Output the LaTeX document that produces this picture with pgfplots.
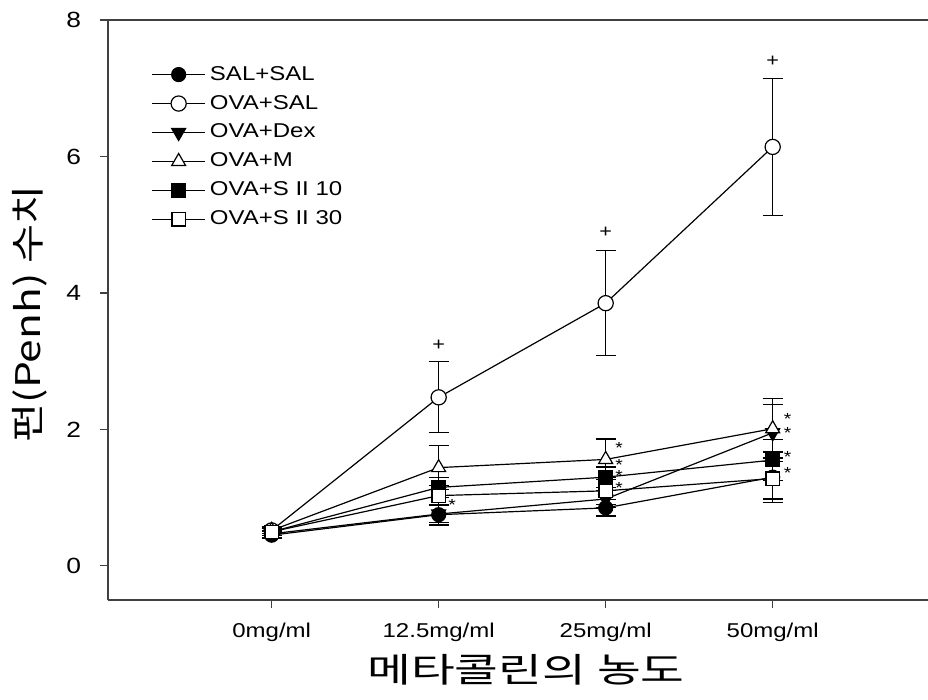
\documentclass[border=0pt]{standalone}
\usepackage{pgfplots}
\pgfplotsset{compat=1.18}
\usepackage{pgfplotstable}
\usepackage{fontspec}
\setmainfont[FakeStretch=1.2]{Liberation Sans}
\newfontfamily\krx[FakeStretch=1.4]{Noto Sans CJK KR}
\newfontfamily\kry[FakeStretch=1.25]{Noto Sans CJK KR}

\pgfplotstableread{
x y e
0 0.45 0.05
1 0.75 0.15
2 0.85 0.12
3 1.30 0.37
}\salsal
\pgfplotstableread{
x y e
0 0.52 0.05
1 2.47 0.52
2 3.85 0.77
3 6.14 1.00
}\ovasal
\pgfplotstableread{
x y e
0 0.47 0.05
1 0.76 0.12
2 0.98 0.12
3 1.95 0.42
}\ovadex
\pgfplotstableread{
x y e
0 0.52 0.05
1 1.44 0.32
2 1.56 0.30
3 2.01 0.44
}\ovam
\pgfplotstableread{
x y e
0 0.50 0.05
1 1.15 0.15
2 1.30 0.15
3 1.55 0.30
}\ovasten
\pgfplotstableread{
x y e
0 0.50 0.05
1 1.03 0.15
2 1.10 0.20
3 1.28 0.30
}\ovasthirty

\begin{document}
\begin{tikzpicture}
\begin{axis}[
  scale only axis,
  width=410pt, height=290pt,
  xmin=-0.98, xmax=3.93,
  ymin=-0.5, ymax=8,
  axis x line=box,
  axis y line*=left,
  axis line style={black!75, line width=0.8pt},
  tick align=outside,
  xtick pos=bottom, ytick pos=left,
  xtick={0,1,2,3},
  xticklabels={0mg/ml,12.5mg/ml,25mg/ml,50mg/ml},
  ytick={0,2,4,6,8},
  major tick length=4pt,
  tick style={black!75, line width=0.6pt},
  tick label style={font=\fontsize{10}{11}\selectfont},
  yticklabel style={font=\fontsize{11}{12}\selectfont, xshift=-6pt},
  /pgf/number format/assume math mode=true,
  xticklabel style={yshift=-4pt},
  xlabel={\krx 메타콜린의 농도},
  ylabel={\kry 펀(Penh) 수치},
  xlabel style={font=\fontsize{17}{19}\selectfont, at={(rel axis cs:0.5,0)}, anchor=center, yshift=-35pt, xshift=4pt},
  ylabel style={font=\fontsize{17}{19}\selectfont, at={(rel axis cs:0,0.5)}, anchor=center, yshift=39pt, xshift=-2pt},
  legend style={draw=none, fill=none, at={(rel axis cs:0.045,0.935)}, anchor=north west,
    font=\fontsize{10}{11}\selectfont, row sep=2pt},
  legend cell align=left,
  legend image code/.code={
    \draw[mark repeat=2, mark phase=2, #1] plot coordinates {(0cm,0cm) (0.47cm,0cm) (0.94cm,0cm)};
  },
  every axis plot/.append style={black, line width=0.6pt},
  error bars/y dir=both, error bars/y explicit,
  error bars/error mark options={rotate=90, mark size=5pt, line width=0.6pt, black},
]
\addplot[mark=*, mark size=3.5pt, mark options={fill=black}] table[x=x, y=y, y error=e]{\salsal};
\addlegendentry{SAL+SAL}
\addplot[mark=*, mark size=3.8pt, mark options={fill=white}] table[x=x, y=y, y error=e]{\ovasal};
\addlegendentry{OVA+SAL}
\addplot[mark=triangle*, mark size=4pt, mark options={fill=black, rotate=180}] table[x=x, y=y, y error=e]{\ovadex};
\addlegendentry{OVA+Dex}
\addplot[mark=triangle*, mark size=4pt, mark options={fill=white}] table[x=x, y=y, y error=e]{\ovam};
\addlegendentry{OVA+M}
\addplot[mark=square*, mark size=3.3pt, mark options={fill=black}] table[x=x, y=y, y error=e]{\ovasten};
\addlegendentry{OVA+S II 10}
\addplot[mark=square*, mark size=3.3pt, mark options={fill=white}] table[x=x, y=y, y error=e]{\ovasthirty};
\addlegendentry{OVA+S II 30}

\node[font=\fontsize{9}{10}\selectfont] at (axis cs:1,3.23) {+};
\node[font=\fontsize{9}{10}\selectfont] at (axis cs:2,4.89) {+};
\node[font=\fontsize{9}{10}\selectfont] at (axis cs:3,7.39) {+};
\begin{scope}[every node/.style={font=\fontsize{8}{9}\selectfont, inner sep=0pt, text height=4pt, text depth=0pt}]
\node at (axis cs:1.08,0.87) {*};
\node at (axis cs:2.08,1.70) {*};
\node at (axis cs:2.08,1.46) {*};
\node at (axis cs:2.08,1.29) {*};
\node at (axis cs:2.08,1.12) {*};
\node at (axis cs:3.09,2.13) {*};
\node at (axis cs:3.09,1.92) {*};
\node at (axis cs:3.09,1.57) {*};
\node at (axis cs:3.09,1.34) {*};
\end{scope}
\coordinate (SW) at (rel axis cs:0,0);
\coordinate (NE) at (rel axis cs:1,1);
\end{axis}
\pgfresetboundingbox
\path[use as bounding box] ([shift={(-54pt,-50pt)}]SW) rectangle ([shift={(0pt,10pt)}]NE);
\end{tikzpicture}
\end{document}
